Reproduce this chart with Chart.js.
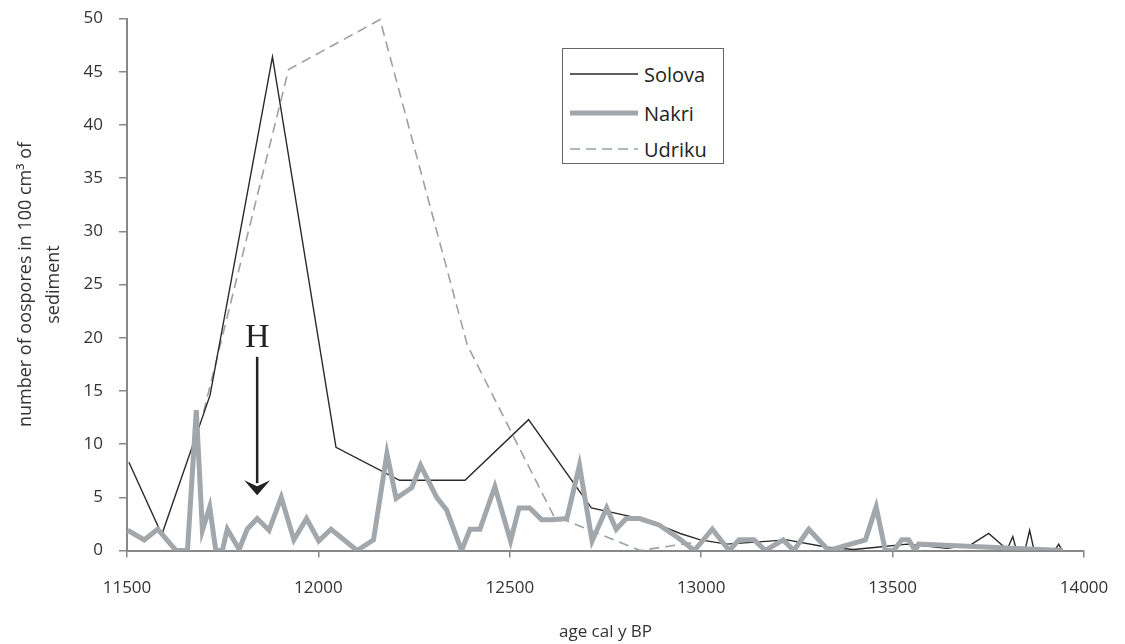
<!DOCTYPE html>
<html>
<head>
<meta charset="utf-8">
<script src="https://cdn.jsdelivr.net/npm/chart.js@4.4.1/dist/chart.umd.min.js"></script>
<style>
  body { margin: 0; background: #fff; }
  #wrap { position: relative; width: 1125px; height: 644px; }
  #legend {
    position: absolute; left: 562px; top: 48px; width: 162px; height: 116px;
    border: 1px solid #666; box-sizing: border-box; background: #fff;
    font-family: "Open Sans", sans-serif; font-size: 20px; color: #222;
  }
  .row { position: absolute; left: 7px; height: 30px; display: flex; align-items: center; }
  .row svg { margin-right: 6px; }
</style>
</head>
<body>
<div id="wrap">
  <canvas id="chart" width="1125" height="644"></canvas>
  <div id="legend"></div>
</div>
<script>
// --- datos ---
const solovaAge   = [11505, 11591, 11717, 11880, 12046, 12212, 12383, 12549, 12713, 12841, 12911, 12945, 12998, 13067, 13224, 13329, 13398, 13459, 13538, 13642, 13703, 13751, 13799, 13814, 13823, 13834, 13847, 13858, 13869, 13925, 13934, 13941];
const solovaCount = [8.3, 1.5, 14.6, 46.4, 9.7, 6.6, 6.6, 12.3, 4.0, 3.0, 2.1, 1.6, 1.0, 0.6, 1.0, 0.3, 0.1, 0.3, 0.6, 0.2, 0.5, 1.6, 0.1, 1.3, 0.1, 0.2, 0.2, 1.9, 0.1, 0.1, 0.6, 0.1];

const nakriAge   = [11502, 11545, 11580, 11628, 11658, 11681, 11697, 11716, 11732, 11749, 11762, 11793, 11814, 11840, 11871, 11903, 11936, 11969, 12001, 12033, 12101, 12144, 12179, 12203, 12244, 12267, 12309, 12335, 12374, 12396, 12422, 12461, 12502, 12524, 12552, 12583, 12609, 12649, 12682, 12715, 12753, 12778, 12804, 12839, 12890, 12943, 12982, 13029, 13073, 13099, 13138, 13168, 13214, 13242, 13281, 13333, 13429, 13457, 13481, 13503, 13524, 13542, 13559, 13568, 13945];
const nakriCount = [1.9, 1.0, 2.0, 0, 0, 13.2, 1.9, 4.1, 0, 0, 2.0, 0.1, 2.0, 3.0, 1.9, 5.0, 1.0, 3.0, 0.9, 2.0, 0, 1.0, 9.1, 4.9, 5.9, 8.0, 5.0, 3.8, 0, 2.0, 2.0, 6.0, 0.9, 4.0, 4.0, 2.9, 2.9, 3.0, 8.0, 0.9, 4.0, 2.0, 3.0, 3.0, 2.4, 1.1, 0, 2.0, 0, 1.0, 1.0, 0, 1.0, 0, 2.0, 0, 1.0, 4.1, 0, 0, 1.0, 1.0, 0, 0.6, 0];

const udrikuAge   = [11700, 11922, 12161, 12389, 12614, 12841, 12989];
const udrikuCount = [13.0, 45.2, 49.9, 19.3, 3.3, 0, 0.8];

const xTicks = { min: 11500, max: 14000, step: 500 };
const yTicks = { min: 0, max: 50, step: 5 };

// flecha "H"
const arrowAge = 11840;
const arrowFrom = 18.2;
const arrowTo = 5.2;
const arrowLabel = "H";
const arrowLabelY = 20.0;

function toPoints(ages, counts) {
    return ages.map((a, i) => ({ x: a, y: counts[i] }));
}

const series = [
    { label: "Solova", data: toPoints(solovaAge, solovaCount), color: "#2a2a2a", width: 1.4, dash: [], order: 1 },
    { label: "Nakri",  data: toPoints(nakriAge, nakriCount),   color: "#a2a7ac", width: 5,   dash: [], order: 0 },
    { label: "Udriku", data: toPoints(udrikuAge, udrikuCount), color: "#9ba1a6", width: 1.6, dash: [10, 6], order: 2 }
];

const arrowPlugin = {
    id: "arrowH",
    afterDatasetsDraw(chart) {
        const { ctx, scales: { x, y } } = chart;
        const px = x.getPixelForValue(arrowAge);
        const top = y.getPixelForValue(arrowFrom);
        const tip = y.getPixelForValue(arrowTo);
        ctx.save();
        ctx.strokeStyle = "#222";
        ctx.fillStyle = "#222";
        ctx.lineWidth = 2.5;
        ctx.beginPath();
        ctx.moveTo(px, top);
        ctx.lineTo(px, tip - 12);
        ctx.stroke();
        ctx.beginPath();
        ctx.moveTo(px - 13, tip - 15);
        ctx.lineTo(px, tip - 9);
        ctx.lineTo(px + 13, tip - 15);
        ctx.lineTo(px, tip);
        ctx.closePath();
        ctx.fill();
        ctx.font = "34px 'Liberation Serif', serif";
        ctx.textAlign = "center";
        ctx.textBaseline = "middle";
        ctx.fillText(arrowLabel, px, y.getPixelForValue(arrowLabelY));
        ctx.restore();
    }
};

const ctx = document.getElementById("chart").getContext("2d");

new Chart(ctx, {
    type: "line",
    data: {
        datasets: series.map(s => ({
            label: s.label,
            data: s.data,
            borderColor: s.color,
            borderWidth: s.width,
            borderDash: s.dash,
            borderJoinStyle: "miter",
            pointRadius: 0,
            tension: 0,
            fill: false,
            order: s.order
        }))
    },
    options: {
        responsive: false,
        animation: false,
        layout: { padding: { top: 18.5, right: 41, left: 0, bottom: 0 } },
        plugins: { legend: { display: false }, tooltip: { enabled: false } },
        scales: {
            x: {
                type: "linear",
                min: xTicks.min, max: xTicks.max,
                // alto fijo del eje y sin margen extra por las etiquetas
                afterFit: s => { s.height = 93.5; s.paddingLeft = 0; s.paddingRight = 0; },
                ticks: { stepSize: xTicks.step, padding: 20, color: "#333", font: { family: "Open Sans", size: 17 }, callback: v => String(v) },
                grid: { drawOnChartArea: false, drawTicks: true, tickLength: 7, color: "#888", lineWidth: 1.5 },
                border: { color: "#888", width: 2 },
                title: { display: true, text: "age cal y BP", color: "#333", padding: { top: 0, bottom: 2 }, font: { family: "Open Sans", size: 17 } }
            },
            y: {
                min: yTicks.min, max: yTicks.max,
                afterFit: s => { s.width = 127; s.paddingTop = 0; s.paddingBottom = 0; },
                ticks: { stepSize: yTicks.step, padding: 16, color: "#333", font: { family: "Open Sans", size: 17 } },
                grid: { drawOnChartArea: false, drawTicks: true, tickLength: 8, color: "#888", lineWidth: 1.5 },
                border: { color: "#888", width: 2 },
                title: {
                    display: true,
                    text: ["number of oospores in 100 cm\u00b3 of", "sediment"],
                    color: "#333",
                    padding: { top: 12, bottom: 0 },
                    font: { family: "Open Sans", size: 18, lineHeight: 1.55 }
                }
            }
        }
    },
    plugins: [arrowPlugin]
});

// --- leyenda ---
const legend = document.getElementById("legend");
const rowTops = [10, 49, 85];
series.forEach((s, i) => {
    const row = document.createElement("div");
    row.className = "row";
    row.style.top = rowTops[i] + "px";
    const dash = s.dash.length ? `stroke-dasharray="${s.dash.join(",")}"` : "";
    row.innerHTML = `<svg width="68" height="10"><line x1="0" y1="5" x2="68" y2="5" stroke="${s.color}" stroke-width="${s.width}" ${dash}/></svg><span>${s.label}</span>`;
    legend.appendChild(row);
});
</script>
</body>
</html>
